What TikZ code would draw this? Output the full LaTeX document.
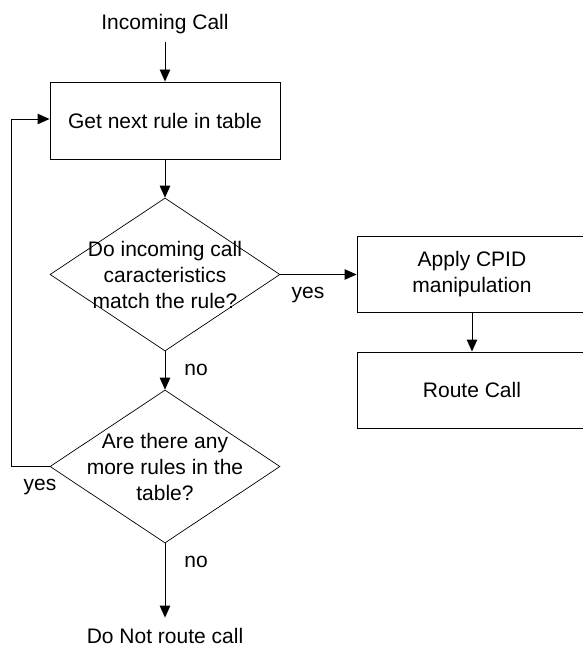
\documentclass[tikz,border=0pt]{standalone}
\usepackage{fontspec}
\setmainfont{Liberation Sans}
\usetikzlibrary{arrows.meta,shapes.geometric}
\tikzset{
  flow/.style={line width=0.9pt,-{Triangle[length=12pt,width=10.5pt]}},
  stepbox/.style={draw,line width=0.9pt,minimum width=230pt,minimum height=76pt,align=center,inner sep=0pt},
  decision/.style={draw,diamond,line width=0.7pt,minimum width=230pt,minimum height=153pt,inner sep=0pt},
  terminal/.style={inner sep=8pt},
  tag/.style={inner sep=0pt}
}
\begin{document}
\begin{tikzpicture}[x=1pt,y=-1pt,font=\fontsize{21}{26}\selectfont]
        \useasboundingbox (0,0) rectangle (582,647);
        \node[terminal] (call) at (165,24) {Incoming Call};
        \node[stepbox,minimum height=77pt] (next) at (165,120.5) {Get next rule in table};
        \node[decision,label={[align=center,inner sep=0pt]center:Do incoming call\\caracteristics\\match the rule?}] (match) at (165,274.5) {};
        \node[stepbox] (apply) at (472,274) {Apply CPID\\manipulation};
        \node[stepbox] (route) at (472,390) {Route Call};
        \node[decision,label={[align=center,inner sep=0pt]center:Are there any\\more rules in the\\table?}] (more) at (165,466.5) {};
        \node[inner sep=0pt] (stop) at (165,635.5) {Do Not route call};
        \draw[flow] (call) -- (next);
        \draw[flow] (next) -- (match);
        \draw[flow] (match.east) -- (apply.west |- match.east);
        \draw[flow] (apply) -- (route);
        \draw[flow] (match) -- (more);
        \draw[flow] (more.west) -- ++(-38,0) |- ([yshift=1.5pt]next.west);
        \draw[flow,shorten >=10pt] (more) -- (stop);
        \node[tag] (yesmatch) at (308,295) {yes};
        \node[tag] (nomatch) at (196,370) {no};
        \node[tag] (yesmore) at (40,487) {yes};
        \node[tag] (nomore) at (196,562) {no};
    \end{tikzpicture}
\end{document}
